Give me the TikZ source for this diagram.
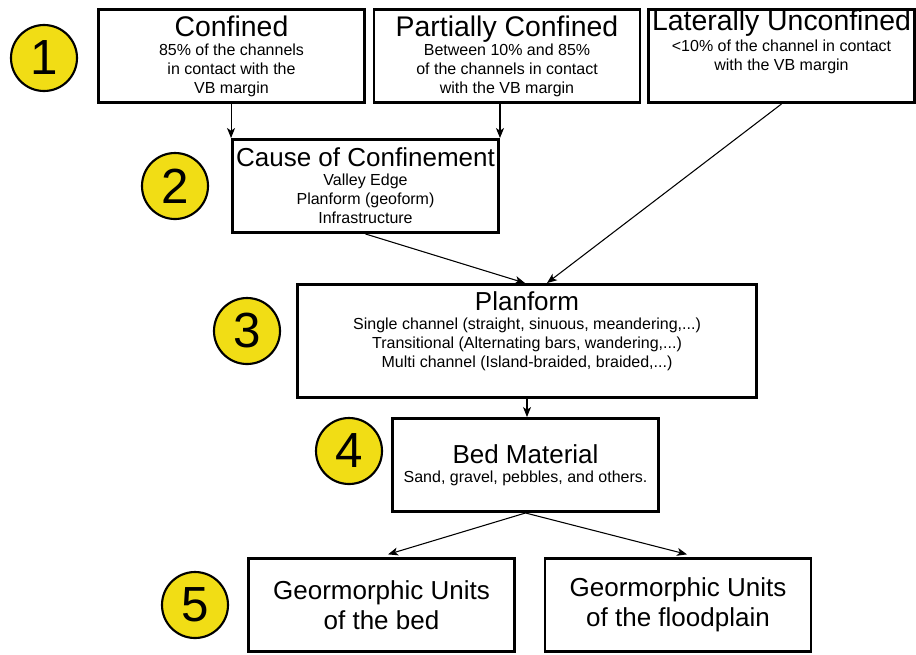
\documentclass[tikz,border=0pt]{standalone}
\usepackage{fontspec}
\setmainfont{Liberation Sans}
\usetikzlibrary{arrows.meta}
\definecolor{ink}{HTML}{000000}
\definecolor{discFill}{HTML}{F1DD15}
\tikzset{
  every node/.append style = {text=ink},
  >=Stealth,
  % --- boxes ---------------------------------------------------------------
  stagebox/.style = {draw=ink, fill=white, line width=2.2pt, align=center,
                     inner xsep=2pt, inner ysep=2pt,
                     minimum width=199.5pt, minimum height=69.75pt,
                     font=\fontsize{12}{14.25}\selectfont},
  widebox/.style  = {stagebox, minimum width=344pt, minimum height=84.75pt},
  unitbox/.style  = {stagebox, font=\fontsize{19.5}{22.5}\selectfont},
  % --- step numbers --------------------------------------------------------
  numdisc/.style  = {circle, draw=ink, fill=discFill, line width=1.6pt,
                     inner sep=0pt, minimum size=49.5pt,
                     font=\fontsize{37}{37}\selectfont},
  % --- relations -----------------------------------------------------------
  flow/.style     = {draw=ink, line width=0.8pt,
                     -{Stealth[length=7.5pt,width=6pt,inset=2pt]}},
}
\newcommand{\toptitle}[1]{{\fontsize{21.3}{21.3}\selectfont #1}}
\newcommand{\boxtitle}[1]{{\fontsize{19.5}{19.5}\selectfont #1}}

\begin{document}
\begin{tikzpicture}[x=0.75pt, y=-0.75pt]
\useasboundingbox (0,0) rectangle (916,654);

% ------------------------------ step 1 -------------------------------------
\node[numdisc] (n1) at (44,58) {1};
\node[stagebox] (conf) at (231.5,56)
     {\toptitle{Confined}\\ 85\% of the channels\\ in contact with the\\ VB margin};
\node[stagebox] (part) at (507,56)
     {\toptitle{Partially Confined}\\ Between 10\% and 85\%\\
      of the channels in contact\\ with the VB margin};
\node[stagebox, inner ysep=0pt, text depth=23.5pt] (lat) at (781.5,56)
     {\toptitle{Laterally Unconfined}\\[1.5pt]
      <10\% of the channel in contact\\ with the VB margin};

% ------------------------------ step 2 -------------------------------------
\node[numdisc] (n2) at (175,186) {2};
\node[stagebox] (cause) at (365.5,186)
     {\boxtitle{Cause of Confinement}\\ Valley Edge\\ Planform (geoform)\\
      Infrastructure};

% ------------------------------ step 3 -------------------------------------
\node[numdisc] (n3) at (247,331) {3};
\node[widebox, text depth=16.5pt] (plan) at (527,341)
     {\boxtitle{Planform}\\ Single channel (straight, sinuous, meandering,...)\\
      Transitional (Alternating bars, wandering,...)\\
      Multi channel (Island-braided, braided,...)};

% ------------------------------ step 4 -------------------------------------
\node[numdisc] (n4) at (349,451) {4};
\node[stagebox] (bed) at (525.5,465)
     {\boxtitle{Bed Material}\\ Sand, gravel, pebbles, and others.};

% ------------------------------ step 5 -------------------------------------
\node[numdisc] (n5) at (195,605) {5};
\node[unitbox] (gbed) at (381.5,605) {Geormorphic Units\\ of the bed};
\node[unitbox] (gfld) at (678,605) {Geormorphic Units\\ of the floodplain};

% ------------------------------- flow --------------------------------------
\draw[flow] (conf.south -| cause.north west) -- (cause.north west);
\draw[flow] (part.south -| cause.north east) -- (cause.north east);
\draw[flow] (cause.south) -- ([xshift=-1.5pt]plan.north);
\draw[flow] (lat.south) -- ([xshift=15pt]plan.north);
\draw[flow] (plan.south) -- (plan.south |- bed.north);
\draw[flow] (bed.south) -- ([xshift=4.9pt, yshift=2pt]gbed.north);
\draw[flow] (bed.south) -- ([xshift=6.75pt, yshift=2pt]gfld.north);

\end{tikzpicture}
\end{document}
